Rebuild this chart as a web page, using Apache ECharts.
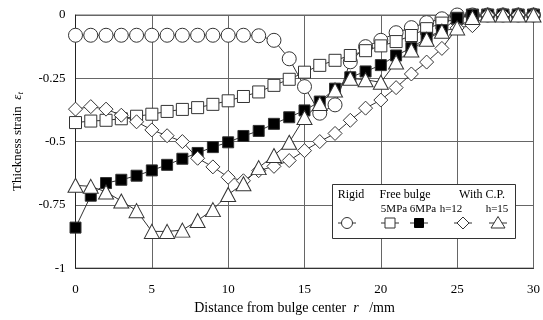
<!DOCTYPE html>
<html><head><meta charset="utf-8">
<script src="https://cdn.jsdelivr.net/npm/echarts@6/dist/echarts.min.js"></script>
<style>html,body{margin:0;padding:0;background:#fff}#c{width:543px;height:320px}</style>
</head><body><div id="c"></div>
<script>
const radius = [0,1,2,3,4,5,6,7,8,9,10,11,12,13,14,15,16,17,18,19,20,21,22,23,24,25,26,27,28,29,30];
const rigid = [-0.08,-0.08,-0.08,-0.08,-0.08,-0.08,-0.08,-0.08,-0.08,-0.08,-0.08,-0.08,-0.082,-0.10,-0.173,-0.283,-0.388,-0.355,-0.185,-0.125,-0.1,-0.07,-0.05,-0.03,-0.015,0,0,0,0,0,0];
const free5 = [-0.425,-0.419,-0.416,-0.41,-0.40,-0.392,-0.381,-0.373,-0.366,-0.353,-0.339,-0.322,-0.304,-0.278,-0.254,-0.226,-0.199,-0.179,-0.16,-0.141,-0.122,-0.105,-0.081,-0.054,-0.032,-0.013,0,0,0,0,0];
const free6 = [-0.84,-0.714,-0.664,-0.651,-0.635,-0.614,-0.592,-0.568,-0.545,-0.522,-0.503,-0.478,-0.458,-0.43,-0.404,-0.377,-0.342,-0.291,-0.246,-0.223,-0.198,-0.16,-0.13,-0.09,-0.06,-0.013,0,0,0,0,0];
const cp12 = [-0.372,-0.362,-0.372,-0.396,-0.422,-0.454,-0.477,-0.5,-0.566,-0.6,-0.641,-0.655,-0.615,-0.598,-0.575,-0.536,-0.5,-0.468,-0.416,-0.368,-0.336,-0.287,-0.233,-0.186,-0.132,-0.051,-0.042,0,0,0,0];
const cp15 = [-0.673,-0.677,-0.699,-0.735,-0.773,-0.855,-0.855,-0.85,-0.812,-0.769,-0.709,-0.667,-0.603,-0.555,-0.503,-0.405,-0.35,-0.296,-0.25,-0.256,-0.266,-0.186,-0.138,-0.096,-0.064,-0.051,-0.01,0,0,0,0];
const legendHead = ['Rigid','Free bulge','With C.P.'];
const legendSub = ['5MPa','6MPa','h=12','h=15'];

const FONT = '"Liberation Serif", "DejaVu Serif", serif';
const chart = echarts.init(document.getElementById('c'), null, {renderer:'canvas'});
function pairs(ys){ return radius.map((x,i)=>[x, ys[i]]); }
const lineStyle = {color:'#333', width:1};
function ser(name, ys, symbol, size, fill){
  return {name, type:'line', data:pairs(ys), symbol, symbolSize:size, showSymbol:true,
    lineStyle, itemStyle:{color:fill, borderColor:'#333', borderWidth:1}, animation:false, z:3};
}
const ly = 223;
function lline(x){ return {type:'line', shape:{x1:x-9,y1:ly,x2:x+9,y2:ly}, style:{stroke:'#333',lineWidth:1}, z:101}; }
const txt = (t,x,y,fs)=>({type:'text', x, y, style:{text:t, font:fs+'px '+FONT, fill:'#000', textAlign:'center', textVerticalAlign:'middle'}, z:101});
chart.setOption({
  animation:false,
  grid:{left:75.5, right:9, top:15, bottom:45, show:true, borderColor:'#666', borderWidth:1},
  xAxis:{type:'value', min:0, max:30, interval:5,
    axisLine:{show:true, onZero:false, lineStyle:{color:'#333'}}, axisTick:{show:false},
    splitLine:{show:true, lineStyle:{color:'#666', width:1}},
    axisLabel:{fontFamily:FONT, fontSize:13, color:'#000', margin:15},
    name:'{a|Distance from bulge center  }{i|r}{a|   /mm}', nameLocation:'middle', nameGap:31,
    nameTextStyle:{padding:[0,20,0,0], rich:{a:{fontFamily:FONT, fontSize:14, color:'#000'}, i:{fontFamily:FONT, fontSize:14, fontStyle:'italic', color:'#000'}}}},
  yAxis:{type:'value', min:-1, max:0, interval:0.25,
    axisLine:{show:true, onZero:false, lineStyle:{color:'#222'}}, axisTick:{show:false},
    splitLine:{show:true, lineStyle:{color:'#666', width:1}},
    axisLabel:{fontFamily:FONT, fontSize:13, color:'#000', margin:10},
    name:'{a|Thickness strain  }{e|ε}{s|t}', nameLocation:'middle', nameGap:50, nameRotate:90,
    nameTextStyle:{rich:{a:{fontFamily:FONT, fontSize:13, color:'#000'}, e:{fontFamily:FONT, fontSize:13, fontStyle:'italic', color:'#000'}, s:{fontFamily:FONT, fontSize:9, fontStyle:'italic', color:'#000', verticalAlign:'bottom', padding:[6,0,0,0]}}}},
  series:[
    ser('Rigid', rigid, 'circle', 14, '#fff'),
    ser('5MPa', free5, 'rect', 12, '#fff'),
    ser('6MPa', free6, 'rect', 11, '#000'),
    ser('h=12', cp12, 'diamond', [14,14], '#fff'),
    ser('h=15', cp15, 'triangle', [15,14], '#fff')
  ],
  graphic:[
    {type:'rect', shape:{x:332.5, y:184.5, width:183, height:54}, style:{fill:'#fff', stroke:'#333', lineWidth:1}, z:100},
    txt(legendHead[0],351,195,12), txt(legendHead[1],405,195,12), txt(legendHead[2],482,195,12),
    txt(legendSub[0],394,209,11), txt(legendSub[1],423,209,11), txt(legendSub[2],451,209,11), txt(legendSub[3],497,209,11),
    lline(347), {type:'circle', shape:{cx:347, cy:ly, r:5.5}, style:{fill:'#fff', stroke:'#333', lineWidth:1}, z:102},
    lline(390), {type:'rect', shape:{x:385, y:ly-5, width:10, height:10}, style:{fill:'#fff', stroke:'#333', lineWidth:1}, z:102},
    lline(419), {type:'rect', shape:{x:414.5, y:ly-4.5, width:9, height:9}, style:{fill:'#000', stroke:'#000', lineWidth:1}, z:102},
    lline(463), {type:'polygon', shape:{points:[[463,ly-6],[469,ly],[463,ly+6],[457,ly]]}, style:{fill:'#fff', stroke:'#333', lineWidth:1}, z:102},
    lline(498), {type:'polygon', shape:{points:[[498,ly-6.5],[505,ly+5],[491,ly+5]]}, style:{fill:'#fff', stroke:'#333', lineWidth:1}, z:102}
  ]
});
</script></body></html>
